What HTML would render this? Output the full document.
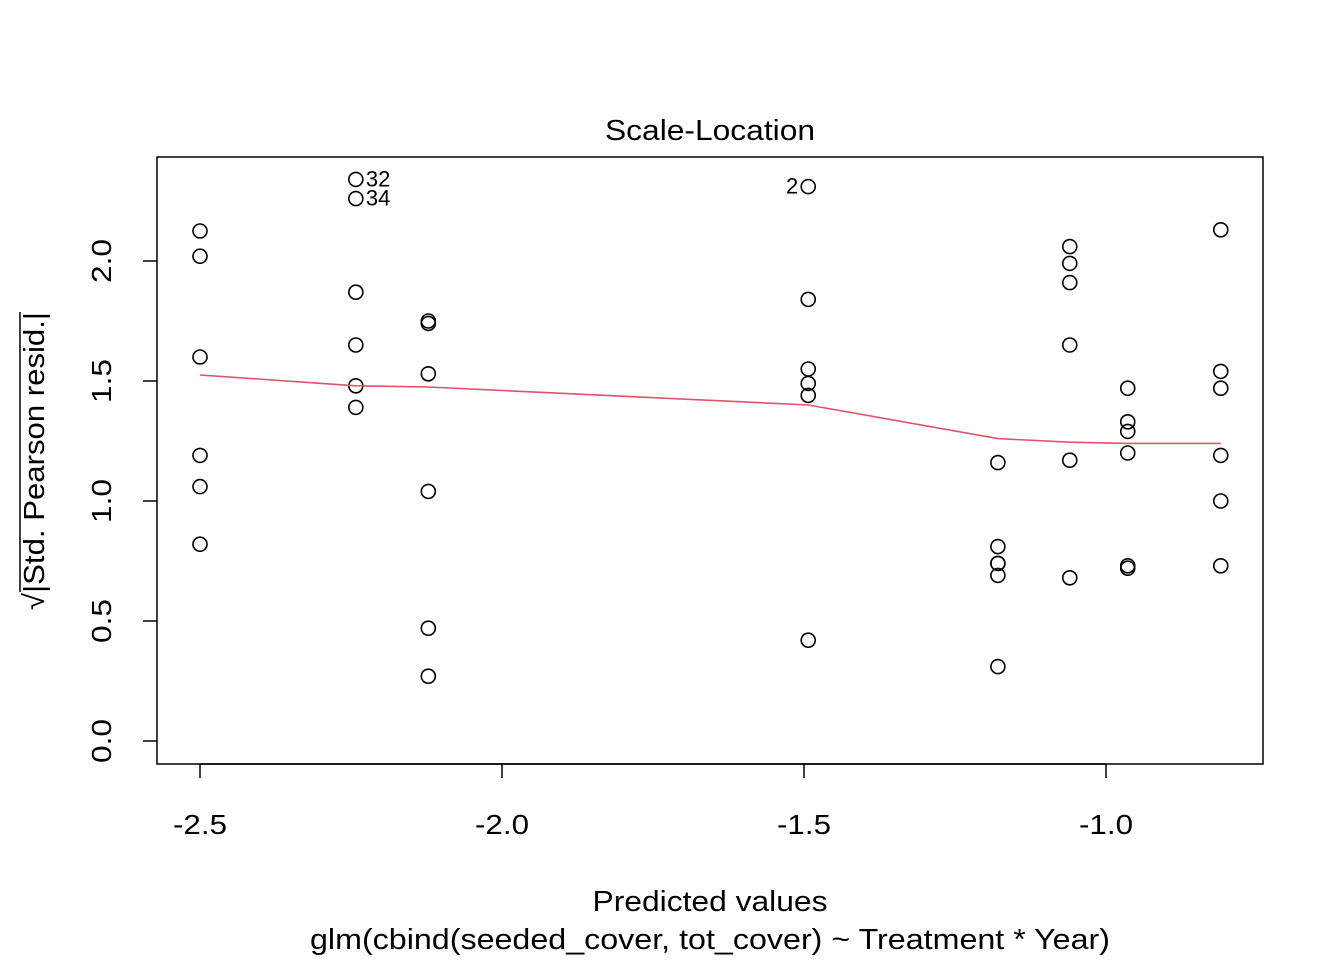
<!DOCTYPE html>
<html><head><meta charset="utf-8">
<style>
html,body{margin:0;padding:0;background:#fff;}
svg{display:block;font-family:"Liberation Sans",Arial,sans-serif;}
</style></head>
<body>
<svg id="chart" width="1344" height="960" viewBox="0 0 1344 960" xmlns="http://www.w3.org/2000/svg">
<rect x="0" y="0" width="1344" height="960" fill="#fff"/>
<g id="axes"></g>
<g id="marks"></g>
</svg>
<script>
const groupX = [-2.5, -2.242, -2.122, -1.493, -1.179, -1.060, -0.964, -0.810];
const groupY = [
  [2.125, 2.02, 1.6, 1.19, 1.06, 0.82],
  [2.34, 2.26, 1.87, 1.65, 1.48, 1.39],
  [1.75, 1.74, 1.53, 1.04, 0.47, 0.27],
  [2.31, 1.84, 1.55, 1.49, 1.44, 0.42],
  [1.16, 0.81, 0.74, 0.74, 0.69, 0.31],
  [2.06, 1.99, 1.91, 1.65, 1.17, 0.68],
  [1.47, 1.33, 1.29, 1.20, 0.73, 0.72],
  [2.13, 1.54, 1.47, 1.19, 1.00, 0.73]
];
const smoothY = [1.525, 1.48, 1.475, 1.40, 1.26, 1.245, 1.24, 1.24];
const labelText = ["32", "34", "2"];
const labelGroup = [1, 1, 3];
const labelIdx = [0, 1, 0];
const labelSide = [1, 1, -1];
const xTicks = [-2.5, -2.0, -1.5, -1.0];
const xTickLabels = ["-2.5", "-2.0", "-1.5", "-1.0"];
const yTicks = [0, 0.5, 1.0, 1.5, 2.0];
const yTickLabels = ["0.0", "0.5", "1.0", "1.5", "2.0"];

const NS = "http://www.w3.org/2000/svg";
const sx = v => 200 + (v + 2.5) * 604;
const sy = v => 741 - v * 240;
function mk(tag, attrs, parent, text) {
  const e = document.createElementNS(NS, tag);
  for (const k in attrs) e.setAttribute(k, attrs[k]);
  if (text !== undefined) e.textContent = text;
  parent.appendChild(e);
  return e;
}
const axes = document.getElementById('axes');
const marks = document.getElementById('marks');

const box = mk('rect', {x:157, y:157, width:1106, height:607, fill:'none', stroke:'#000', 'stroke-width':1.5}, axes);



xTicks.forEach((t, i) => {
  const l = mk('line', {x1:sx(t), x2:sx(t), y1:764, y2:778, stroke:'#000', 'stroke-width':1.5}, axes);
  
  
  const tx = mk('text', {x:sx(t), y:834, 'font-size':28, 'text-anchor':'middle', textLength:54, lengthAdjust:'spacingAndGlyphs'}, axes, xTickLabels[i]);
  
  
});
const xl = mk('line', {x1:sx(-2.5), x2:sx(-1.0), y1:764, y2:764, stroke:'#000', 'stroke-width':1.5}, axes);



yTicks.forEach((t, i) => {
  const l = mk('line', {x1:143, x2:157, y1:sy(t), y2:sy(t), stroke:'#000', 'stroke-width':1.5}, axes);
  
  
  const tx = mk('text', {x:0, y:0, 'font-size':28, 'text-anchor':'middle', textLength:44, lengthAdjust:'spacingAndGlyphs', transform:`translate(111,${sy(t)}) rotate(-90)`}, axes, yTickLabels[i]);
  
  
});

const title = mk('text', {x:710, y:140, 'font-size':29, 'text-anchor':'middle', textLength:210, lengthAdjust:'spacingAndGlyphs'}, axes, 'Scale-Location');


const xt = mk('text', {x:710, y:911, 'font-size':29, 'text-anchor':'middle', textLength:235, lengthAdjust:'spacingAndGlyphs'}, axes, 'Predicted values');


const sub = mk('text', {x:710, y:949, 'font-size':29, 'text-anchor':'middle', textLength:800, lengthAdjust:'spacingAndGlyphs'}, axes, 'glm(cbind(seeded_cover, tot_cover) ~ Treatment * Year)');


const yt = mk('text', {x:0, y:0, 'font-size':29, 'text-anchor':'middle', textLength:298, lengthAdjust:'spacingAndGlyphs', transform:'translate(44,461) rotate(-90)'}, axes, '√|Std. Pearson resid.|');


const ov = mk('line', {x1:20, x2:20, y1:312, y2:592, stroke:'#000', 'stroke-width':1.5}, axes);



groupX.forEach((gx, gi) => {
  groupY[gi].forEach(v => {
    const c = mk('circle', {cx:sx(gx), cy:sy(v), r:7, fill:'none', stroke:'#000', 'stroke-width':1.6}, marks);
    
    
  });
});

const pts = groupX.map((gx, i) => sx(gx) + ',' + sy(smoothY[i])).join(' ');
const sm = mk('polyline', {points:pts, fill:'none', stroke:'#DF536B', 'stroke-width':1.6}, marks);



labelText.forEach((t, i) => {
  const gx = groupX[labelGroup[i]], v = groupY[labelGroup[i]][labelIdx[i]];
  const side = labelSide[i];
  const tx = mk('text', {x:sx(gx) + side * 10, y:sy(v) + 7, 'font-size':22, 'text-anchor': side > 0 ? 'start' : 'end'}, marks, t);
  
  
});
</script>
</body></html>
